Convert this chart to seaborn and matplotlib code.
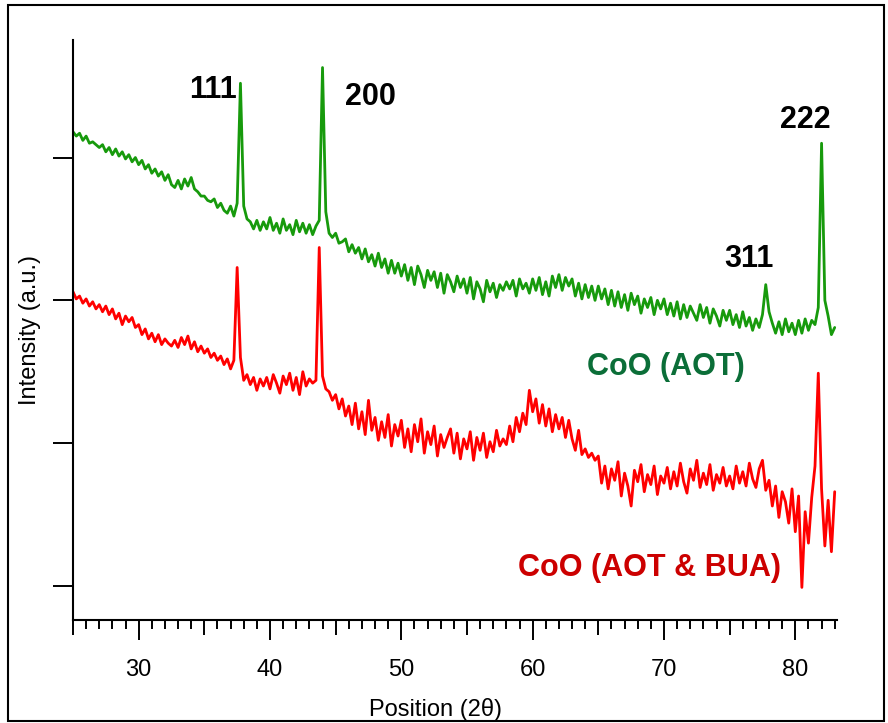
import numpy as np
import pandas as pd
import matplotlib
matplotlib.use('Agg')
import matplotlib.pyplot as plt
import seaborn as sns

# 2-theta grid, 0.25 deg steps from 25 to 83
two_theta = np.arange(25, 83.001, 0.25)

# CoO (AOT) - green pattern (arbitrary units)
aot = [
    318, 315, 317, 312, 315, 310, 311, 309, 307, 309, 304, 307, 302, 306, 301, 304, 299, 302, 297, 300,
    295, 298, 292, 295, 289, 292, 287, 290, 284, 288, 281, 279, 284, 278, 285, 280, 286, 278, 276, 273,
    273, 270, 269, 271, 265, 268, 263, 261, 266, 259, 268, 352, 266, 257, 255, 250, 256, 249, 255, 250,
    258, 249, 254, 247, 257, 249, 253, 246, 256, 248, 254, 247, 253, 246, 252, 256, 363, 262, 247, 244,
    247, 240, 241, 243, 234, 239, 233, 237, 229, 236, 227, 232, 224, 233, 223, 229, 219, 228, 219, 226,
    217, 225, 214, 223, 211, 224, 218, 209, 221, 214, 220, 209, 219, 205, 218, 213, 206, 217, 209, 215,
    205, 216, 201, 213, 208, 199, 214, 206, 212, 202, 211, 207, 213, 208, 214, 203, 215, 208, 212, 205,
    215, 207, 216, 204, 213, 203, 217, 209, 218, 207, 216, 210, 215, 203, 212, 201, 211, 202, 210, 200,
    210, 201, 208, 197, 207, 196, 206, 195, 204, 193, 205, 197, 203, 191, 201, 195, 202, 190, 200, 194,
    201, 190, 198, 189, 199, 187, 197, 188, 196, 191, 186, 197, 188, 195, 184, 194, 189, 182, 193, 186,
    193, 183, 190, 181, 192, 182, 188, 179, 187, 181, 190, 211, 192, 184, 177, 185, 176, 187, 178, 184,
    176, 186, 177, 187, 179, 186, 183, 195, 310, 200, 189, 176, 181,
]

# CoO (AOT & BUA) - red pattern (arbitrary units)
aot_bua = [
    206, 201, 203, 198, 201, 196, 199, 194, 197, 192, 196, 190, 194, 187, 191, 183, 189, 185, 188, 181,
    183, 176, 180, 173, 177, 171, 176, 169, 173, 170, 168, 172, 167, 174, 169, 175, 166, 171, 164, 168,
    163, 166, 160, 163, 158, 161, 155, 159, 152, 158, 223, 160, 144, 148, 141, 146, 137, 145, 140, 146,
    138, 148, 142, 135, 147, 141, 149, 137, 146, 134, 150, 140, 145, 142, 144, 237, 147, 138, 136, 130,
    134, 124, 131, 119, 126, 113, 128, 110, 122, 106, 130, 109, 118, 102, 115, 104, 120, 98, 113, 105,
    116, 97, 110, 94, 113, 101, 117, 93, 108, 99, 112, 91, 106, 97, 104, 110, 93, 107, 89, 103,
    96, 108, 88, 104, 95, 107, 90, 101, 94, 109, 98, 103, 99, 112, 101, 118, 108, 121, 113, 137,
    122, 131, 114, 127, 112, 124, 108, 120, 110, 118, 104, 116, 103, 95, 109, 92, 96, 90, 93, 88,
    91, 72, 84, 68, 82, 74, 87, 63, 79, 70, 56, 81, 73, 85, 66, 78, 71, 84, 64, 77,
    72, 83, 68, 80, 70, 86, 73, 65, 82, 74, 88, 69, 79, 71, 85, 67, 78, 72, 83, 70,
    77, 68, 84, 72, 80, 70, 86, 75, 69, 82, 88, 67, 74, 56, 70, 48, 66, 59, 44, 68,
    38, 63, -1, 52, 30, 62, 84, 149, 68, 28, 60, 24, 66,
]

samples = ['CoO (AOT)', 'CoO (AOT & BUA)']
line_colors = {'CoO (AOT)': '#179a0c', 'CoO (AOT & BUA)': '#ff0000'}
text_colors = {'CoO (AOT)': '#0b6e38', 'CoO (AOT & BUA)': '#cc0000'}

# peak labels: text, 2theta, intensity (baseline of text)
peak_labels = ['111', '200', '311', '222']
peak_x = [35.65, 47.68, 76.45, 80.78]
peak_y = [342, 337, 223, 321]

df = pd.DataFrame({
    'two_theta': np.concatenate([two_theta, two_theta]),
    'intensity': aot + aot_bua,
    'sample': [samples[0]] * len(aot) + [samples[1]] * len(aot_bua),
})

sns.set_style('white')
plt.rcParams['font.family'] = ['Liberation Sans', 'DejaVu Sans']
plt.rcParams['text.color'] = 'black'
plt.rcParams['axes.labelcolor'] = 'black'
plt.rcParams['xtick.color'] = 'black'
plt.rcParams['ytick.color'] = 'black'

fig = plt.figure(figsize=(8.88, 7.23), dpi=100)
ax = fig.add_axes([0.0822, 0.1425, 0.860, 0.802])

sns.lineplot(data=df, x='two_theta', y='intensity', hue='sample', palette=line_colors,
             estimator=None, sort=False, linewidth=2.0, legend=False, ax=ax)

ax.set_xlim(25, 83.15)
ax.set_ylim(-23.8, 382.2)

# axes look
for s in ['top', 'right']:
    ax.spines[s].set_visible(False)
for s in ['left', 'bottom']:
    ax.spines[s].set_linewidth(1.5)
    ax.spines[s].set_color('black')

major = np.arange(25, 81, 5)
ax.set_xticks(major)
ax.set_xticklabels(['' if v % 10 else str(v) for v in major])
ax.set_xticks(np.arange(25, 84, 1), minor=True)
ax.tick_params(axis='x', which='major', direction='out', length=14.4, width=1.4,
               pad=14, labelsize=17, bottom=True, colors='black')
ax.tick_params(axis='x', which='minor', direction='out', length=6.5, width=1.4, bottom=True)
ax.set_yticks([0, 100, 200, 300])
ax.set_yticklabels([])
ax.tick_params(axis='y', which='major', direction='out', length=14.4, width=1.4, left=True)
for tick, v in zip(ax.xaxis.get_major_ticks(), major):
    if v % 10:
        tick.tick1line.set_markersize(10.8)

ax.set_xlabel('Position (2θ)', fontsize=17, color='black')
ax.set_ylabel('Intensity (a.u.)', fontsize=17, color='black')
ax.xaxis.set_label_coords(0.475, -0.135)
ax.yaxis.set_label_coords(-0.042, 0.5)

for lab, px, py in zip(peak_labels, peak_x, peak_y):
    ax.text(px, py, lab, fontsize=22, fontweight='bold', ha='center', va='baseline', color='black')

ax.text(70.13, 148, samples[0], color=text_colors[samples[0]], fontsize=22,
        fontweight='bold', ha='center', va='baseline')
ax.text(68.9, 7, samples[1], color=text_colors[samples[1]], fontsize=22,
        fontweight='bold', ha='center', va='baseline')

# outer frame around the whole figure
fig.add_artist(plt.Rectangle((0.009, 0.003), 0.9865, 0.990, transform=fig.transFigure,
                             fill=False, lw=1.5, ec='black'))

fig.savefig('out.png', dpi=100)
